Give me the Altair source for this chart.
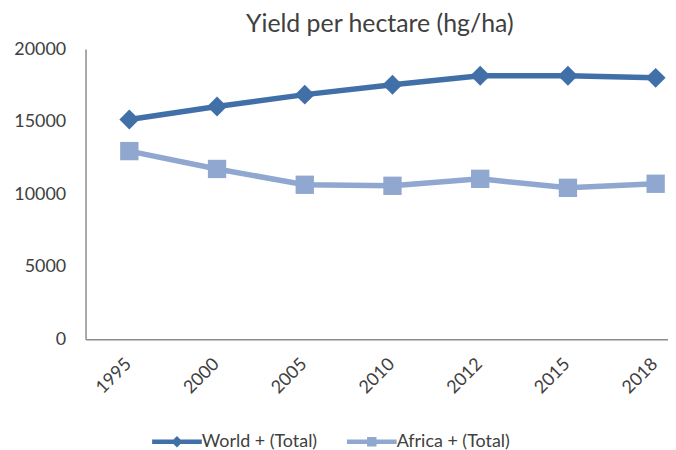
import altair as alt
import pandas as pd

years = ["1995", "2000", "2005", "2010", "2012", "2015", "2018"]
world = [15150, 16040, 16860, 17540, 18160, 18160, 18020]
africa = [12970, 11740, 10650, 10580, 11060, 10440, 10720]
series = ["World + (Total)", "Africa + (Total)"]
colors = ["#4170A8", "#90A7D0"]
y_ticks = [0, 5000, 10000, 15000, 20000]

rows = []
for name, vals in zip(series, [world, africa]):
    for yr, v in zip(years, vals):
        rows.append({"year": yr, "value": v, "series": name})
df = pd.DataFrame(rows)

FONT = "Lato"
TXT = "#404040"

world_path = "M-5,-0.45 H5 V0.45 H-5 Z M0,-1.15 L1.15,0 L0,1.15 L-1.15,0 Z"
africa_path = "M-5,-0.45 H5 V0.45 H-5 Z M-0.95,-0.95 H0.95 V0.95 H-0.95 Z"

legend = alt.Legend(
    title=None,
    orient="none",
    direction="horizontal",
    legendX=63,
    legendY=386,
    symbolSize=100,
    symbolOffset=20,
    symbolOpacity=1,
    labelOffset=16,
    columnPadding=25,
    labelFont=FONT,
    labelFontSize=18,
    labelColor=TXT,
)

x_enc = alt.X(
    "year:O",
    sort=years,
    title=None,
    scale=alt.Scale(type="point", padding=0.32, align=0.78),
    axis=alt.Axis(
        labelAngle=315,
        labelAlign="right",
        labelBaseline="middle",
        ticks=False,
        labelPadding=22,
        labelOffset=-1,
        labelFont=FONT,
        labelFontSize=18,
        labelColor=TXT,
        domainColor="#8C8C8C",
        domainWidth=1.5,
        grid=False,
    ),
)
y_enc = alt.Y(
    "value:Q",
    title=None,
    scale=alt.Scale(domain=[0, 20000]),
    axis=alt.Axis(
        values=y_ticks,
        format="d",
        ticks=False,
        grid=False,
        labelPadding=20,
        labelFont=FONT,
        labelFontSize=18,
        labelColor=TXT,
        domainColor="#8C8C8C",
        domainWidth=1.5,
    ),
)

def color_enc(leg):
    return alt.Color("series:N", scale=alt.Scale(domain=series, range=colors), legend=leg)

base = alt.Chart(df).encode(x=x_enc, y=y_enc)

lines = base.mark_line(strokeWidth=5.5).encode(color=color_enc(None))
points = base.mark_point(filled=True, opacity=1).encode(
    color=color_enc(None),
    shape=alt.Shape("series:N", scale=alt.Scale(domain=series, range=["diamond", "square"]), legend=None),
    size=alt.Size("series:N", scale=alt.Scale(domain=series, range=[400, 340]), legend=None),
)
legend_layer = base.mark_point(filled=True, opacity=0, size=100).encode(
    color=color_enc(legend),
    shape=alt.Shape("series:N", scale=alt.Scale(domain=series, range=[world_path, africa_path]), legend=legend),
)

chart = (
    alt.layer(lines, points, legend_layer)
    .resolve_scale(color="independent", shape="independent")
    .properties(
        width=586,
        height=292,
        padding={"left": 78, "top": 40, "right": 0, "bottom": 110},
        autosize=alt.AutoSizeParams(type="none"),
        title=alt.TitleParams(
            "Yield per hectare (hg/ha)",
            font=FONT,
            fontSize=25,
            fontWeight="normal",
            color=TXT,
            anchor="middle",
            offset=3,
            dx=3,
        ),
    )
    .configure_view(stroke=None)
)

chart.save("out.html", embed_options={"renderer": "svg", "actions": False})
